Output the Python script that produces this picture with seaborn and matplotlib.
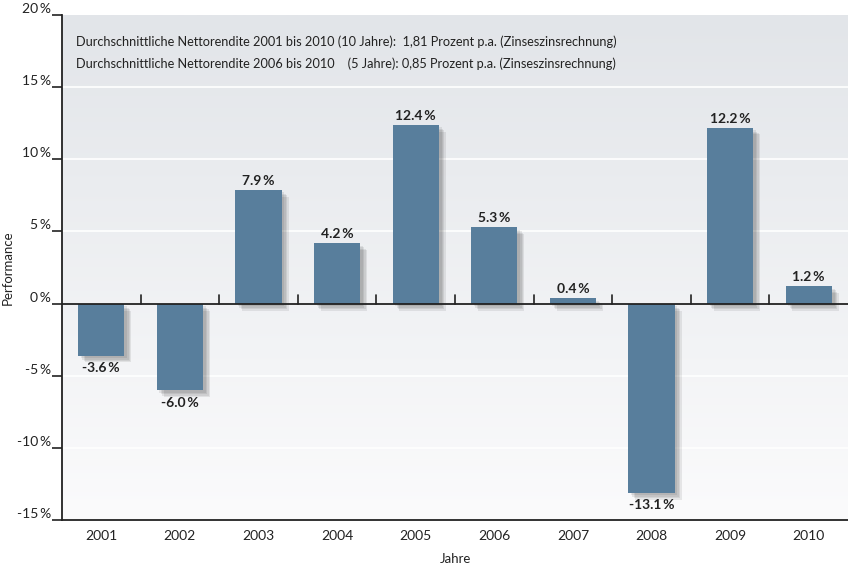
import numpy as np
import pandas as pd
import seaborn as sns
import matplotlib.pyplot as plt
import matplotlib.patheffects as pe
from matplotlib.colors import LinearSegmentedColormap

# =========================
# DATA
# =========================
years = ["2001", "2002", "2003", "2004", "2005", "2006", "2007", "2008", "2009", "2010"]
performance = [-3.6, -6.0, 7.9, 4.2, 12.4, 5.3, 0.4, -13.1, 12.2, 1.2]
y_ticks = [-15, -10, -5, 0, 5, 10, 15, 20]
info_lines = [
    "Durchschnittliche Nettorendite 2001 bis 2010 (10 Jahre):  1,81 Prozent p.a. (Zinseszinsrechnung)",
    "Durchschnittliche Nettorendite 2006 bis 2010    (5 Jahre): 0,85 Prozent p.a. (Zinseszinsrechnung)",
]

df = pd.DataFrame({"Jahr": years, "Performance": performance})

# =========================
# STYLE
# =========================
sns.set_style("white")
plt.rcParams["font.family"] = ["Lato", "DejaVu Sans"]

BAR_COLOR = "#587e9c"
TEXT_COLOR = "#222222"

fig = plt.figure(figsize=(8.48, 5.71), dpi=100)
ax = fig.add_axes([62 / 848, 1 - 520 / 571, 1 - 62 / 848, (520 - 15) / 571])

sns.barplot(data=df, x="Jahr", y="Performance", color=BAR_COLOR,
            width=0.59, saturation=1, ax=ax, zorder=3)

ax.set_xlim(-0.5, len(years) - 0.5)

# gradient background (darker at top)
grad = np.linspace(0, 1, 256).reshape(-1, 1)
cmap = LinearSegmentedColormap.from_list("bg", ["#e2e5e9", "#fbfbfc"])
ax.imshow(grad, cmap=cmap, aspect="auto", extent=[-0.5, len(years) - 0.5, -15, 20],
          zorder=0, origin="upper")
ax.set_ylim(-15, 20)

# soft shadows on bars
shadow = [pe.SimplePatchShadow(offset=(k, -k), alpha=0.09, shadow_rgbFace="#222222")
          for k in (5, 4, 3, 2)]
for p in ax.patches:
    p.set_path_effects(shadow + [pe.Normal()])
    p.set_edgecolor("none")

# grid lines
for t in y_ticks[1:-1]:
    if t != 0:
        ax.axhline(t, color="white", lw=1.2, zorder=1)
ax.axhline(0, color=TEXT_COLOR, lw=1.3, zorder=4)

# category separator ticks on zero line
for i in range(1, len(years)):
    ax.plot([i - 0.5, i - 0.5], [0, 0.6], color=TEXT_COLOR, lw=1.2, zorder=4)

# value labels
for i, v in enumerate(performance):
    if v >= 0:
        ax.text(i, v + 0.2, f"{v:.1f}\u2009%", ha="center", va="bottom",
                fontsize=10, fontweight="bold", color=TEXT_COLOR, zorder=5)
    else:
        ax.text(i, v - 0.45, f"{v:.1f}\u2009%", ha="center", va="top",
                fontsize=10, fontweight="bold", color=TEXT_COLOR, zorder=5)

# info text
ax.text(0.018, 0.9465, info_lines[0], transform=ax.transAxes, fontsize=9.2,
        color=TEXT_COLOR, va="center", ha="left", zorder=5)
ax.text(0.018, 0.903, info_lines[1], transform=ax.transAxes, fontsize=9.2,
        color=TEXT_COLOR, va="center", ha="left", zorder=5)

# axes
sns.despine(ax=ax, top=True, right=True)
for side in ("left", "bottom"):
    ax.spines[side].set_color(TEXT_COLOR)
    ax.spines[side].set_linewidth(1.3)
    ax.spines[side].set_zorder(6)

ax.set_yticks(y_ticks)
ax.set_yticklabels([f"{t}\u2009%" for t in y_ticks])
for lbl in ax.get_yticklabels():
    lbl.set_va("bottom")
ax.tick_params(axis="y", length=7, width=1.2, color=TEXT_COLOR, labelsize=10,
               labelcolor=TEXT_COLOR, pad=1, left=True)
ax.tick_params(axis="x", length=0, labelsize=10, labelcolor=TEXT_COLOR, pad=7)

ax.set_xlabel("Jahre", fontsize=9.5, color=TEXT_COLOR, labelpad=8)
ax.set_ylabel("Performance", fontsize=9.5, color=TEXT_COLOR, labelpad=2)

fig.savefig("out.png", dpi=100)
